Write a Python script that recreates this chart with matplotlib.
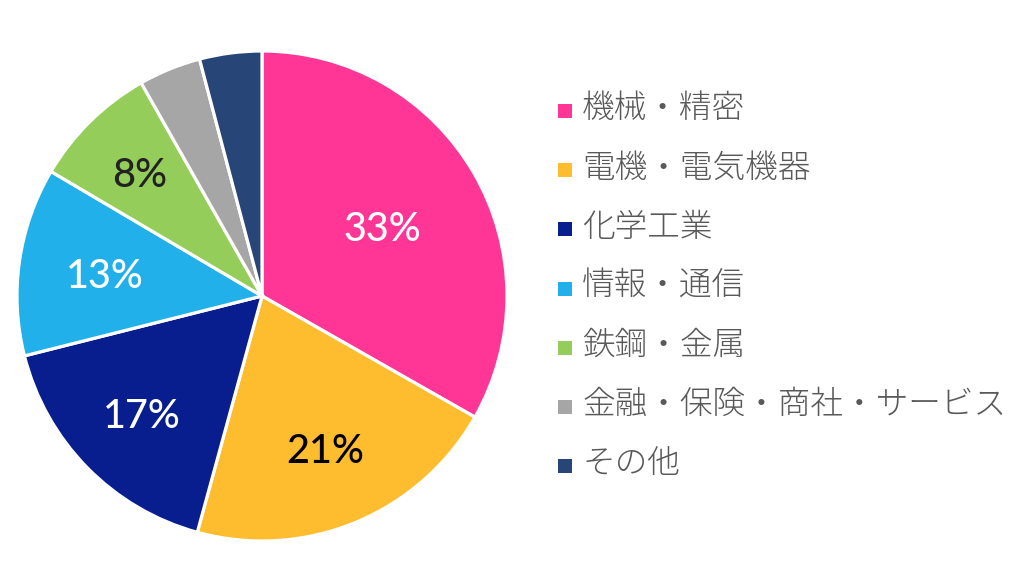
import matplotlib
matplotlib.use("Agg")
import matplotlib.pyplot as plt
from matplotlib.patches import Rectangle
import numpy as np

categories = ["機械・精密", "電機・電気機器", "化学工業", "情報・通信", "鉄鋼・金属",
              "金融・保険・商社・サービス", "その他"]
values = [33.2, 21.0, 16.8, 12.4, 8.3, 4.1, 4.1]
pct_labels = ["33%", "21%", "17%", "13%", "8%", "", ""]
colors = ["#FF3696", "#FDBD2E", "#081E8E", "#21B0EA", "#94CD59", "#A6A6A6", "#284577"]
label_colors = ["white", "black", "white", "white", "#222222", "white", "white"]

plt.rcParams['font.family'] = ['Noto Sans CJK JP', 'DejaVu Sans']

W, H = 1030, 580
fig = plt.figure(figsize=(W / 100, H / 100), dpi=100)

cx, cy, r = 262, 296, 245
ax = fig.add_axes([(cx - r) / W, (H - cy - r) / H, 2 * r / W, 2 * r / H])
wedges, _ = ax.pie(values, colors=colors, startangle=90, counterclock=False,
                   radius=1.0, wedgeprops=dict(edgecolor="white", linewidth=2.3))
ax.set_xlim(-1, 1)
ax.set_ylim(-1, 1)
ax.set_aspect("equal")
ax.axis("off")

dists = [0.57, 0.67, 0.685, 0.65, 0.71, 0.7, 0.7]
half_cap = 15.0 / r
for w, lab, lc, d in zip(wedges, pct_labels, label_colors, dists):
    if not lab:
        continue
    ang = np.deg2rad((w.theta1 + w.theta2) / 2)
    ax.text(d * np.cos(ang), d * np.sin(ang) - half_cap, lab, ha="center",
            va="baseline", fontsize=28.5, color=lc, fontweight=500,
            family=["Lato", "DejaVu Sans"])

# legend
row0, step = 109, 59.2
for i, (cat, col) in enumerate(zip(categories, colors)):
    y = row0 + i * step
    fig.patches.append(Rectangle((558 / W, 1 - (y + 9) / H), 14 / W, 14 / H,
                                 transform=fig.transFigure, facecolor=col,
                                 edgecolor="none"))
    fig.text(582 / W, 1 - y / H, cat, ha="left", va="center", fontsize=23.5,
             color="#595959", fontweight=300)

fig.savefig("out.png", dpi=100, facecolor="white")
